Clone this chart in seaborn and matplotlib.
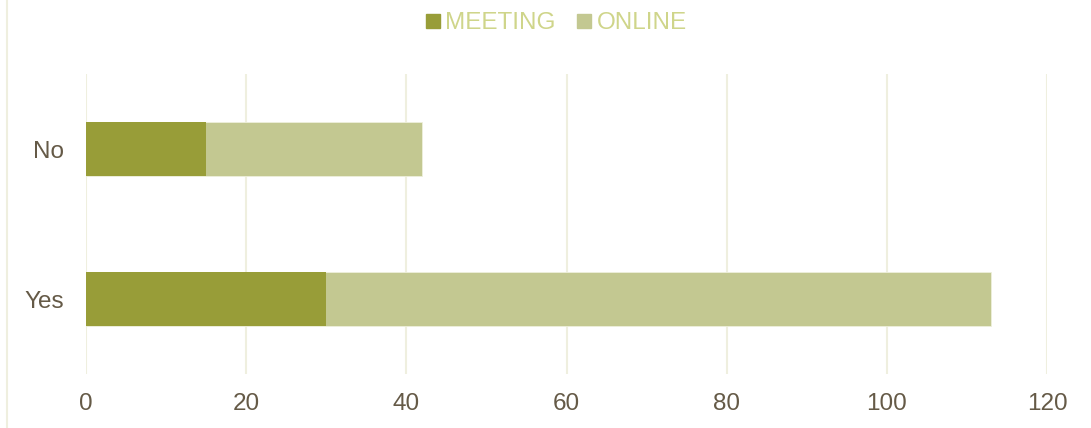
import matplotlib
matplotlib.use("Agg")
import matplotlib.pyplot as plt
from matplotlib.lines import Line2D
import seaborn as sns
import pandas as pd

categories = ["No", "Yes"]
meeting = [15, 30]
online = [27, 83]
series_names = ["MEETING", "ONLINE"]
x_ticks = [0, 20, 40, 60, 80, 100, 120]

c_meeting = "#989d38"
c_online = "#c3c891"
c_text = "#655a47"
c_legend = "#cfd58a"
c_grid = "#efefdf"

sns.set_theme(style="white")
plt.rcParams["font.family"] = ["Liberation Sans", "DejaVu Sans"]

totals = [m + o for m, o in zip(meeting, online)]
df = pd.DataFrame({"cat": categories, "meeting": meeting, "total": totals})

fig = plt.figure(figsize=(10.91, 4.28), dpi=100)
ax = fig.add_axes([86 / 1091, (428 - 374) / 428, (1047 - 86) / 1091, 300 / 428])

sns.barplot(data=df, y="cat", x="total", orient="h", color=c_online,
            width=0.355, saturation=1, ax=ax, zorder=3, linewidth=0.6,
            edgecolor="#eef0dc")
sns.barplot(data=df, y="cat", x="meeting", orient="h", color=c_meeting,
            width=0.355, saturation=1, ax=ax, zorder=4, linewidth=0)

ax.set_xlim(0, 120)
ax.set_ylim(1.5, -0.5)
ax.set_xticks(x_ticks)
ax.set_xticklabels([str(t) for t in x_ticks])
ax.set_xlabel("")
ax.set_ylabel("")
for s in ax.spines.values():
    s.set_visible(False)
ax.xaxis.grid(True, color=c_grid, linewidth=1.5, zorder=0)
ax.yaxis.grid(False)
ax.set_axisbelow(True)
ax.tick_params(axis="both", length=0, labelsize=17.5, colors=c_text)
ax.tick_params(axis="x", pad=14)
ax.tick_params(axis="y", pad=16)

# left border line of chart area
fig.add_artist(Line2D([6.5 / 1091, 6.5 / 1091], [0, 1], transform=fig.transFigure,
                      color=c_grid, linewidth=1.5))

handles = [Line2D([], [], marker="s", linestyle="", markersize=9.5,
                  markerfacecolor=c, markeredgecolor=c)
           for c in (c_meeting, c_online)]
leg = fig.legend(handles, series_names, loc="center", bbox_to_anchor=(556 / 1091, 1 - 23 / 428),
                 ncol=2, frameon=False, fontsize=17.5, handlelength=0.6,
                 handletextpad=0.2, columnspacing=0.9, borderaxespad=0)
for t in leg.get_texts():
    t.set_color(c_legend)

fig.savefig("out.png", dpi=100, facecolor="white")
